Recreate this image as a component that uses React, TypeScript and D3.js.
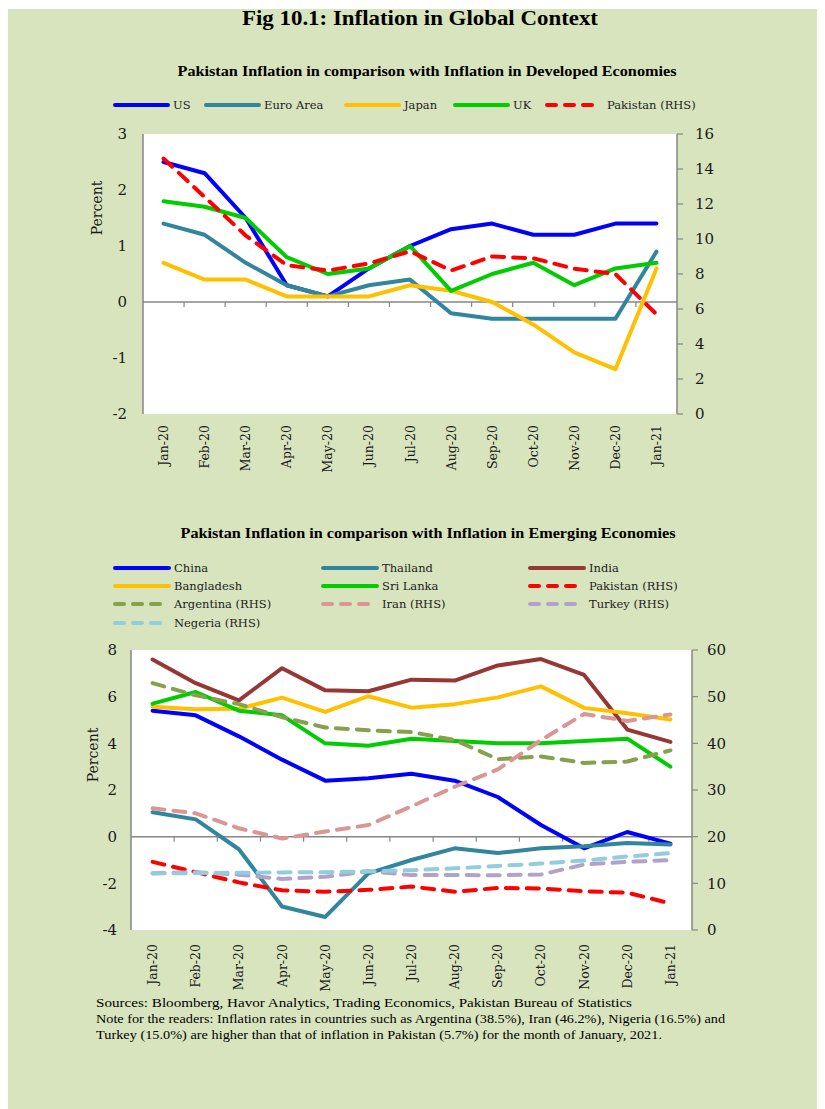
import React from "react";
import * as d3 from "d3";

const months = ["Jan-20","Feb-20","Mar-20","Apr-20","May-20","Jun-20","Jul-20","Aug-20","Sep-20","Oct-20","Nov-20","Dec-20","Jan-21"];

// Developed economies (LHS) and Pakistan (RHS)
const us = [2.5,2.3,1.5,0.3,0.1,0.6,1.0,1.3,1.4,1.2,1.2,1.4,1.4];
const euroArea = [1.4,1.2,0.7,0.3,0.1,0.3,0.4,-0.2,-0.3,-0.3,-0.3,-0.3,0.9];
const japan = [0.7,0.4,0.4,0.1,0.1,0.1,0.3,0.2,0.0,-0.4,-0.9,-1.2,0.6];
const uk = [1.8,1.7,1.5,0.8,0.5,0.6,1.0,0.2,0.5,0.7,0.3,0.6,0.7];
const pakistan = [14.6,12.4,10.2,8.5,8.2,8.6,9.3,8.2,9.0,8.9,8.3,8.0,5.7];

// Emerging economies
const china = [5.4,5.2,4.3,3.3,2.4,2.5,2.7,2.4,1.7,0.5,-0.5,0.2,-0.3];
const thailand = [1.05,0.74,-0.54,-2.99,-3.44,-1.57,-1.0,-0.5,-0.7,-0.5,-0.41,-0.27,-0.34];
const india = [7.59,6.58,5.84,7.22,6.27,6.23,6.73,6.69,7.34,7.61,6.93,4.59,4.06];
const bangladesh = [5.57,5.46,5.48,5.96,5.35,6.02,5.53,5.68,5.97,6.44,5.52,5.29,5.02];
const sriLanka = [5.7,6.2,5.4,5.2,4.0,3.9,4.2,4.1,4.0,4.0,4.1,4.2,3.0];
const argentina = [52.9,50.3,48.4,45.6,43.4,42.8,42.4,40.7,36.6,37.2,35.8,36.1,38.5];
const iran = [26.1,25.0,21.8,19.6,21.1,22.5,26.5,30.7,34.4,40.7,46.3,44.8,46.2];
const turkey = [12.15,12.37,11.86,10.94,11.39,12.62,11.76,11.77,11.75,11.89,14.03,14.60,14.97];
const nigeria = [12.13,12.20,12.26,12.34,12.40,12.56,12.82,13.22,13.71,14.23,14.89,15.75,16.47];

const topLeftTicks = [3,2,1,0,-1,-2];
const topRightTicks = [16,14,12,10,8,6,4,2,0];
const botLeftTicks = [8,6,4,2,0,-2,-4];
const botRightTicks = [60,50,40,30,20,10,0];

const footnotes = [
  "Sources: Bloomberg, Havor Analytics, Trading Economics, Pakistan Bureau of Statistics",
  "Note for the readers: Inflation rates in countries such as Argentina (38.5%), Iran (46.2%), Nigeria (16.5%) and",
  "Turkey (15.0%) are higher than that of inflation in Pakistan (5.7%) for the month of January, 2021.",
];
const footnoteWidths = [536, 629, 566];

const C = {
  blue: "#0000FF", teal: "#31859C", gold: "#FFC000", green: "#00CC00", red: "#FF0000",
  india: "#953735", arg: "#86A04C", iran: "#D99694", turkey: "#B3A2C7", nigeria: "#93CDDD",
};

type S = { name: string; values: number[]; color: string; rhs: boolean };

const topSeries: S[] = [
  { name: "US", values: us, color: C.blue, rhs: false },
  { name: "Euro Area", values: euroArea, color: C.teal, rhs: false },
  { name: "Japan", values: japan, color: C.gold, rhs: false },
  { name: "UK", values: uk, color: C.green, rhs: false },
  { name: "Pakistan (RHS)", values: pakistan, color: C.red, rhs: true },
];

const botSeries: S[] = [
  { name: "China", values: china, color: C.blue, rhs: false },
  { name: "Thailand", values: thailand, color: C.teal, rhs: false },
  { name: "India", values: india, color: C.india, rhs: false },
  { name: "Bangladesh", values: bangladesh, color: C.gold, rhs: false },
  { name: "Sri Lanka", values: sriLanka, color: C.green, rhs: false },
  { name: "Pakistan (RHS)", values: pakistan, color: C.red, rhs: true },
  { name: "Argentina (RHS)", values: argentina, color: C.arg, rhs: true },
  { name: "Iran (RHS)", values: iran, color: C.iran, rhs: true },
  { name: "Turkey (RHS)", values: turkey, color: C.turkey, rhs: true },
  { name: "Negeria (RHS)", values: nigeria, color: C.nigeria, rhs: true },
];

const FONT = "DejaVu Serif";
const AX = "#868686";

function Panel(props: {
  series: S[]; x0: number; x1: number; y0: number; y1: number;
  lDom: [number, number]; rDom: [number, number]; lTicks: number[]; rTicks: number[];
  labelTop: number; pctX: number; pctY: number; lLabelGap: number; rLabelGap: number;
}) {
  const { series, x0, x1, y0, y1 } = props;
  const xb = d3.scaleBand().domain(months).range([x0, x1]).padding(0);
  const cx = (m: string) => (xb(m) as number) + xb.bandwidth() / 2;
  const yl = d3.scaleLinear().domain(props.lDom).range([y1, y0]);
  const yr = d3.scaleLinear().domain(props.rDom).range([y1, y0]);
  const zero = yl(0);
  return (
    <g>
      <rect x={x0} y={y0} width={x1 - x0} height={y1 - y0} fill="#FFFFFF" />
      <line x1={x0} x2={x0} y1={y0} y2={y1} stroke={AX} strokeWidth={1.5} />
      <line x1={x1} x2={x1} y1={y0} y2={y1} stroke={AX} strokeWidth={1.5} />
      <line x1={x0} x2={x1} y1={zero} y2={zero} stroke={AX} strokeWidth={1.5} />
      {months.slice(1).map((m) => (
        <line key={m} x1={xb(m) as number} x2={xb(m) as number} y1={zero} y2={zero + 5} stroke={AX} strokeWidth={1.2} />
      ))}
      {props.rTicks.map((t) => (
        <line key={"rt" + t} x1={x1} x2={x1 + 6} y1={yr(t)} y2={yr(t)} stroke={AX} strokeWidth={1.2} />
      ))}
      {props.lTicks.map((t) => (
        <text key={"l" + t} x={x0 - props.lLabelGap} y={yl(t)} dy="0.35em" textAnchor="end"
          fontFamily={FONT} fontSize={15} fill="#1a1a1a">{t}</text>
      ))}
      {props.rTicks.map((t) => (
        <text key={"r" + t} x={x1 + props.rLabelGap} y={yr(t)} dy="0.35em" textAnchor="start"
          fontFamily={FONT} fontSize={15} fill="#1a1a1a">{t}</text>
      ))}
      {months.map((m) => (
        <text key={"m" + m} transform={`translate(${cx(m)},${props.labelTop}) rotate(-90)`} dy="0.36em"
          textAnchor="end" fontFamily={FONT} fontSize={12.5} fill="#1a1a1a">{m}</text>
      ))}
      <text transform={`translate(${props.pctX},${props.pctY}) rotate(-90)`} dy="0.35em" textAnchor="middle"
        fontFamily={FONT} fontSize={14} fill="#1a1a1a">Percent</text>
      {series.map((s) => {
        const y = s.rhs ? yr : yl;
        const gen = d3.line<number>().x((_, i) => cx(months[i])).y((v) => y(v));
        return (
          <path key={s.name} d={gen(s.values) as string} fill="none" stroke={s.color} strokeWidth={4}
            strokeLinejoin="round" strokeLinecap="round" strokeDasharray={s.rhs ? "12,9" : undefined} />
        );
      })}
    </g>
  );
}

function LegendItem(props: { s: S; x: number; y: number; len: number; gap: number }) {
  const { s, x, y, len, gap } = props;
  return (
    <g>
      <line x1={x} x2={x + len} y1={y} y2={y} stroke={s.color} strokeWidth={4} strokeLinecap="round"
        strokeDasharray={s.rhs ? "9,9" : undefined} />
      <text x={x + len + gap} y={y} dy="0.35em" fontFamily={FONT} fontSize={11.5} fill="#222">{s.name}</text>
    </g>
  );
}

export default function App() {
  const topLegendX = [115, 206, 346, 455, 547];
  const botCols = [115, 323, 530];
  const botRows = [568, 586, 604, 623];
  return (
    <>
      <style>{`body{margin:0}`}</style>
      <svg width={825} height={1109} style={{ display: "block" }}>
        <rect x={0} y={0} width={825} height={1109} fill="#FFFFFF" />
        <rect x={8} y={9} width={809} height={1100} fill="#D7E4BD" />
        <text x={420} y={25} textAnchor="middle" fontFamily="Liberation Serif" fontWeight="bold" fontSize={21}
          textLength={356} lengthAdjust="spacingAndGlyphs" fill="#000">Fig 10.1: Inflation in Global Context</text>
        <text x={427} y={76} textAnchor="middle" fontFamily="Liberation Serif" fontWeight="bold" fontSize={14}
          textLength={499} lengthAdjust="spacingAndGlyphs" fill="#000">Pakistan Inflation in comparison with Inflation in Developed Economies</text>
        {topSeries.map((s, i) => (
          <LegendItem key={s.name} s={s} x={topLegendX[i]} y={105} len={s.rhs ? 49 : 53} gap={s.rhs ? 11 : 5} />
        ))}
        <Panel series={topSeries} x0={143} x1={677} y0={134} y1={414} lDom={[-2, 3]} rDom={[0, 16]}
          lTicks={topLeftTicks} rTicks={topRightTicks} labelTop={425} pctX={97} pctY={208}
          lLabelGap={16} rLabelGap={18} />

        <text x={428} y={538} textAnchor="middle" fontFamily="Liberation Serif" fontWeight="bold" fontSize={14}
          textLength={495} lengthAdjust="spacingAndGlyphs" fill="#000">Pakistan Inflation in comparison with Inflation in Emerging Economies</text>
        {botSeries.map((s, i) => (
          <LegendItem key={s.name} s={s} x={botCols[i % 3]} y={botRows[Math.floor(i / 3)]}
            len={s.rhs ? 49 : 54} gap={s.rhs ? 10 : 5} />
        ))}
        <Panel series={botSeries} x0={131} x1={692} y0={650} y1={930} lDom={[-4, 8]} rDom={[0, 60]}
          lTicks={botLeftTicks} rTicks={botRightTicks} labelTop={944} pctX={93} pctY={755}
          lLabelGap={14} rLabelGap={15} />

        <g fontFamily="Liberation Serif" fontSize={12.5} fill="#000">
          {footnotes.map((t, i) => (
            <text key={i} x={96} y={1007 + i * 16} textLength={footnoteWidths[i]} lengthAdjust="spacingAndGlyphs">{t}</text>
          ))}
        </g>
      </svg>
    </>
  );
}
